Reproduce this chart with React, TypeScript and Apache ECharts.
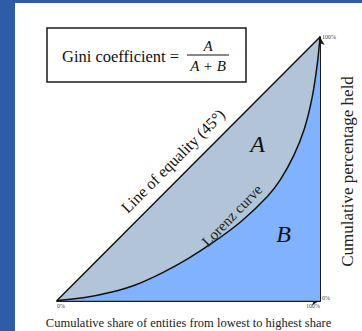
import React, { useEffect, useRef } from "react";
import * as echarts from "echarts";

// Lorenz curve (cumulative share of entities -> cumulative share held)
const lorenzX = [0, 0.1, 0.2, 0.3, 0.4, 0.5, 0.6, 0.7, 0.8, 0.85, 0.9, 0.94, 0.97, 0.99, 1];
const lorenzY = [0, 0.01, 0.03, 0.06, 0.105, 0.16, 0.225, 0.3, 0.395, 0.46, 0.55, 0.65, 0.77, 0.9, 1];
// Line of equality
const equalityX = [0, 1];
const equalityY = [0, 1];
// Tick labels
const tickValues = [0, 1];
const tickLabels = ["0%", "100%"];
// Texts
const xAxisTitle = "Cumulative share of entities from lowest to highest share";
const yAxisTitle = "Cumulative percentage held";
const equalityLabel = "Line of equality (45°)";
const lorenzLabel = "Lorenz curve";
const formulaLabel = "Gini coefficient =";
const numeratorLabel = "A";
const denominatorLabel = "A + B";
const areaALabel = "A";
const areaBLabel = "B";

const SERIF = "Liberation Serif, DejaVu Serif, serif";

export default function App() {
  const ref = useRef<HTMLDivElement>(null);
  useEffect(() => {
    const chart = echarts.init(ref.current!, null, { renderer: "svg" });
    const fmt = (v: number) => {
      const i = tickValues.indexOf(v);
      return i >= 0 ? tickLabels[i] : "";
    };
    const axisLine = {
      show: true,
      onZero: false,
      symbol: ["none", "arrow"],
      symbolSize: [7, 8],
      lineStyle: { color: "#1a1a1a", width: 2 },
    };
    const txt = (
      text: string,
      x: number,
      y: number,
      size: number,
      opts: { italic?: boolean; rotation?: number; align?: string; fill?: string } = {}
    ) => ({
      type: "text",
      x,
      y,
      rotation: opts.rotation ?? 0,
      z: 51,
      style: {
        text,
        font: `${opts.italic ? "italic " : ""}${size}px ${SERIF}`,
        fill: opts.fill ?? "#111",
        align: opts.align ?? "center",
        verticalAlign: "middle",
      },
    });
    chart.setOption({
      animation: false,
      backgroundColor: "#ffffff",
      textStyle: { fontFamily: SERIF },
      grid: { left: 57, right: 42, top: 37, bottom: 30.5, outerBoundsMode: "none" },
      xAxis: {
        type: "value",
        min: 0,
        max: 1,
        interval: 1,
        axisLine,
        axisTick: { show: false },
        splitLine: { show: false },
        axisLabel: {
          formatter: fmt,
          fontSize: 6,
          fontFamily: SERIF,
          color: "#444",
          margin: 2,
          alignMinLabel: "left",
          alignMaxLabel: "right",
        },
        name: xAxisTitle,
        nameLocation: "middle",
        nameGap: 16,
        nameTextStyle: { fontFamily: SERIF, fontSize: 12.5, color: "#222" },
      },
      yAxis: {
        type: "value",
        position: "right",
        min: 0,
        max: 1,
        interval: 1,
        axisLine,
        axisTick: { show: false },
        splitLine: { show: false },
        axisLabel: {
          formatter: fmt,
          fontSize: 6,
          fontFamily: SERIF,
          color: "#444",
          margin: 2,
          verticalAlignMinLabel: "bottom",
        },
      },
      series: [
        {
          type: "line",
          data: equalityX.map((x, i) => [x, equalityY[i]]),
          symbol: "none",
          lineStyle: { color: "#111", width: 1.5 },
          areaStyle: { color: "#b2c5d8", opacity: 1 },
          z: 2,
        },
        {
          type: "line",
          data: lorenzX.map((x, i) => [x, lorenzY[i]]),
          symbol: "none",
          smooth: 0.3,
          lineStyle: { color: "#111", width: 1.5 },
          areaStyle: { color: "#80b2ff", opacity: 1 },
          z: 3,
        },
      ],
      graphic: [
        { type: "rect", shape: { x: 0, y: 0, width: 15, height: 331 }, style: { fill: "#2f5ca9" }, z: 100 },
        { type: "rect", shape: { x: 0, y: 0, width: 362, height: 3 }, style: { fill: "#2f5ca9" }, z: 100 },
        {
          type: "rect",
          shape: { x: 47, y: 28, width: 199, height: 54 },
          style: { fill: "#fff", stroke: "#1a1a1a", lineWidth: 1.5 },
          z: 50,
        },
        txt(formulaLabel, 62, 56, 16.5, { align: "left" }),
        txt(numeratorLabel, 208, 46, 15, { italic: true }),
        {
          type: "line",
          shape: { x1: 187, y1: 55, x2: 229, y2: 55 },
          style: { stroke: "#111", lineWidth: 1 },
          z: 51,
        },
        txt(denominatorLabel, 208, 65.5, 15, { italic: true }),
        txt(equalityLabel, 173, 161, 16, { rotation: Math.PI / 4 }),
        txt(lorenzLabel, 232, 215.5, 15, { rotation: (46 * Math.PI) / 180, fill: "#222" }),
        txt(areaALabel, 257.5, 143.5, 24, { italic: true }),
        txt(areaBLabel, 283.5, 234, 24, { italic: true }),
        txt(yAxisTitle, 347, 171.5, 17, { rotation: Math.PI / 2, fill: "#222" }),
      ],
    });
    return () => chart.dispose();
  }, []);
  return <div ref={ref} style={{ position: "absolute", left: 0, top: 0, width: 362, height: 331 }} />;
}
